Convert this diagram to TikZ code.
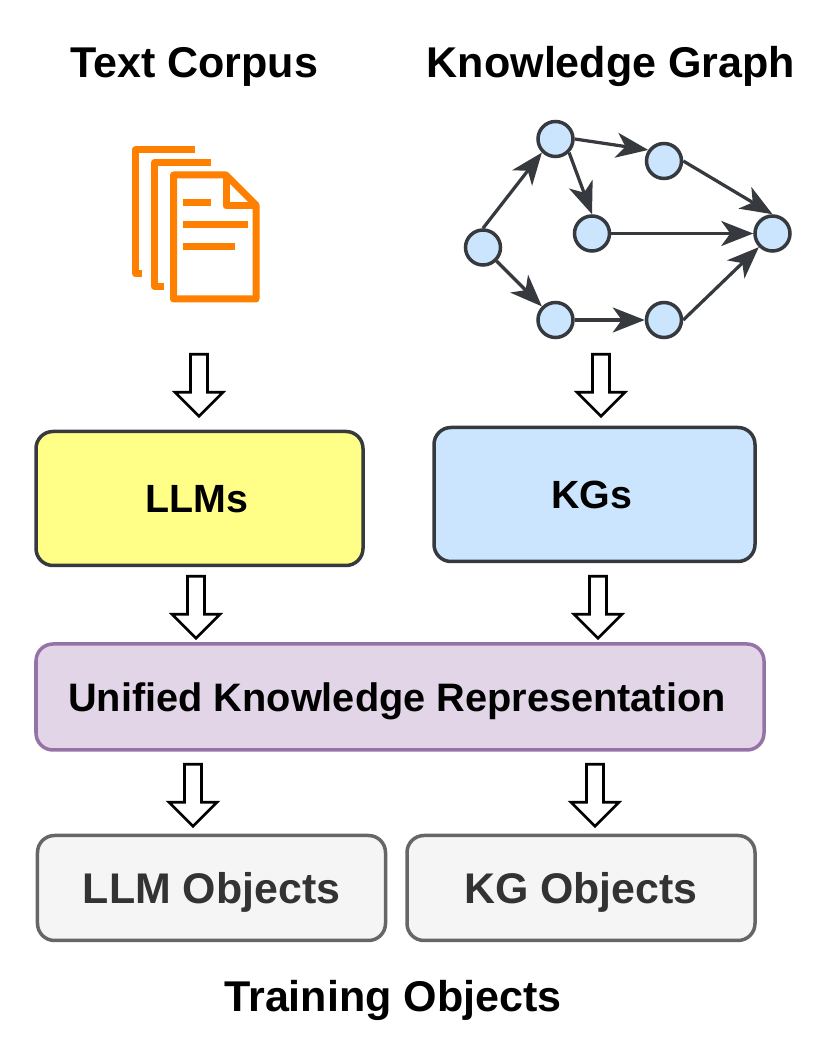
\documentclass[tikz,border=0pt]{standalone}
\usepackage{fontspec}
\setmainfont{Liberation Sans}
\usetikzlibrary{arrows.meta,shapes.arrows}
\definecolor{strokedark}{HTML}{36393D}
\definecolor{docorange}{HTML}{FF8000}
\definecolor{nodeblue}{HTML}{CCE5FF}
\definecolor{boxyellow}{HTML}{FFFF88}
\definecolor{boxpurple}{HTML}{E1D5E7}
\definecolor{linepurple}{HTML}{9673A6}
\definecolor{boxgrey}{HTML}{F5F5F5}
\definecolor{linegrey}{HTML}{666666}
\definecolor{textgrey}{HTML}{333333}
\tikzset{
  kgnode/.style={circle, draw=strokedark, fill=nodeblue, line width=0.07cm, minimum size=0.70cm, inner sep=0pt},
  kgedge/.style={-{Stealth[length=0.64cm,width=0.50cm,inset=0.18cm]}, draw=strokedark, line width=0.065cm},
  blockarrow/.style={single arrow, shape border rotate=270, draw=black, fill=white, line width=0.055cm, minimum height=1.24cm, minimum width=0.96cm, single arrow head extend=0.05cm, inner sep=0pt},
  box/.style={draw=strokedark, rounded corners=0.34cm, line width=0.07cm, text depth=0pt, font=\fontsize{22.4}{26}\selectfont\bfseries},
  objbox/.style={box, fill=boxgrey, draw=linegrey, text=textgrey, minimum width=6.96cm, minimum height=2.10cm, font=\fontsize{24.4}{28}\selectfont\bfseries},
  titletext/.style={text depth=0pt, font=\fontsize{24.5}{28}\selectfont\bfseries},
  docline/.style={draw=docorange, line width=0.14cm, line join=round}
}
\begin{document}
\begin{tikzpicture}
\useasboundingbox (0,0) rectangle (16.44,21);

\node[titletext] (texttitle) at (3.88,19.76) {Text Corpus};
\node[titletext] (graphtitle) at (12.22,19.76) {Knowledge Graph};

% document stack
\draw[docline] (3.89,18) -- (2.71,18) -- (2.71,15.52) -- (2.84,15.52);
\draw[docline] (4.21,17.75) -- (3.09,17.75) -- (3.09,15.27) -- (3.28,15.27);
\draw[docline] (3.47,17.5) -- (4.52,17.5) -- (5.12,16.9) -- (5.12,15.02) -- (3.47,15.02) -- cycle;
\draw[docline] (4.52,17.5) -- (4.52,16.88) -- (5.12,16.88);
\draw[docline] (3.65,16.95) -- (4.21,16.95);
\draw[docline] (3.65,16.51) -- (4.95,16.51);
\draw[docline] (3.65,16.07) -- (4.70,16.07);

% graph
\node[kgnode] (ka) at (9.66,16.05) {};
\node[kgnode] (kb) at (11.11,18.22) {};
\node[kgnode] (kc) at (13.28,17.78) {};
\node[kgnode] (kd) at (11.84,16.33) {};
\node[kgnode] (ke) at (15.45,16.33) {};
\node[kgnode] (kf) at (11.11,14.6) {};
\node[kgnode] (kg) at (13.28,14.6) {};

\draw[kgedge] (ka.north) -- (kb.south west);
\draw[kgedge] (ka.south east) -- (kf.north west);
\draw[kgedge] (kb.east) -- (kc.145);
\draw[kgedge] (kb.south east) -- (kd.north);
\draw[kgedge] (kc.east) -- (ke.north);
\draw[kgedge] (kd.east) -- (ke.west);
\draw[kgedge] (kf.east) -- (kg.west);
\draw[kgedge] (kg.east) -- (ke.south west);

% boxes
\node[box, fill=boxyellow, minimum width=6.54cm, minimum height=2.68cm] (llm) at (3.99,11.03) {LLMs\kern0.12cm};
\node[box, fill=nodeblue, minimum width=6.42cm, minimum height=2.68cm] (kgs) at (11.89,11.11) {KGs\kern0.12cm};
\node[box, fill=boxpurple, draw=linepurple, minimum width=14.56cm, minimum height=2.12cm, font=\fontsize{22.6}{26}\selectfont\bfseries] (ukr) at (8.0,7.06) {Unified Knowledge Representation\kern0.12cm};
\node[objbox] (llmobj) at (4.23,3.24) {LLM Objects};
\node[objbox] (kgobj) at (11.62,3.24) {KG Objects};

\node[titletext] (traintitle) at (7.86,1.08) {Training Objects};

% block arrows
\node[blockarrow] (arra) at (3.98,13.38) {};
\node[blockarrow] (arrb) at (12.02,13.38) {};
\node[blockarrow] (arrc) at (3.92,8.94) {};
\node[blockarrow] (arrd) at (11.96,8.94) {};
\node[blockarrow] (arre) at (3.86,5.18) {};
\node[blockarrow] (arrf) at (11.9,5.18) {};
\end{tikzpicture}
\end{document}
